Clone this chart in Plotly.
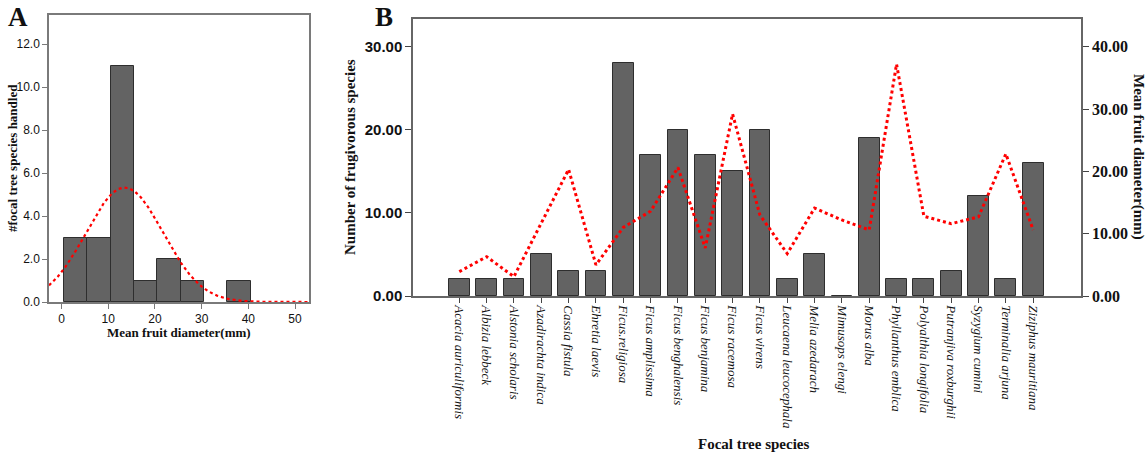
import numpy as np
import plotly.graph_objects as go

# ---------------- data ----------------
species = [
    "Acacia auriculiformis", "Albizia lebbeck", "Alstonia scholaris", "Azadirachta indica",
    "Cassia fistula", "Ehretia laevis", "Ficus.religiosa", "Ficus amplissima",
    "Ficus benghalensis", "Ficus benjamina", "Ficus racemosa", "Ficus virens",
    "Leucaena leucocephala", "Melia azedarach", "Mimusops elengi", "Morus alba",
    "Phyllanthus emblica", "Polyalthia longifolia", "Putranjiva roxburghii",
    "Syzygium cumini", "Terminalia arjuna", "Ziziphus mauritiana",
]
frugivore_counts = [2, 2, 2, 5, 3, 3, 28, 17, 20, 17, 15, 20, 2, 5, 0, 19, 2, 2, 3, 12, 2, 16]
fruit_diameter = [3.9, 6.3, 3.1, 11.7, 20.3, 5.0, 11.0, 13.6, 20.6, 7.7, 29.2, 13.0,
                  6.8, 14.1, 12.2, 10.6, 37.2, 12.8, 11.6, 12.7, 22.8, 10.6]

hist_start, hist_end, hist_size = 0.5, 40.5, 5
a_y_ticks = [0, 2, 4, 6, 8, 10, 12]
a_x_ticks = [0, 10, 20, 30, 40, 50]
b_left_ticks = [0, 10, 20, 30]
b_right_ticks = [0, 10, 20, 30, 40]

# normal curve fitted to the fruit diameters (as in the SPSS histogram)
fd = np.array(fruit_diameter)
mu, sd = fd.mean(), fd.std(ddof=1)
xs = np.linspace(-2.7, 53, 300)
curve = len(fd) * hist_size / (sd * np.sqrt(2 * np.pi)) * np.exp(-0.5 * ((xs - mu) / sd) ** 2)

W, H = 1148, 455
def px(x): return x / W
def py(y): return 1 - y / H

SERIF = "Liberation Serif, Times New Roman, serif"
SANS = "Liberation Sans, Arial, sans-serif"
BAR = "#636363"
EDGE = "#2e2e2e"
AX = "#7a7a7a"
TXT = "#111111"

fig = go.Figure()

# Panel A histogram
fig.add_trace(go.Histogram(
    x=fruit_diameter, xbins=dict(start=hist_start, end=hist_end, size=hist_size),
    marker=dict(color=BAR, line=dict(color=EDGE, width=1)),
    xaxis="x", yaxis="y", showlegend=False))
fig.add_trace(go.Scatter(
    x=xs, y=curve, mode="lines", line=dict(color="#ff0000", width=2.2, dash="dot"),
    xaxis="x", yaxis="y", showlegend=False))

# Panel B bars + line
fig.add_trace(go.Bar(
    x=species, y=frugivore_counts, width=0.76,
    marker=dict(color=BAR, line=dict(color=EDGE, width=1)),
    xaxis="x2", yaxis="y2", showlegend=False))
fig.add_trace(go.Scatter(
    x=species, y=fruit_diameter, mode="lines", line=dict(color="#ff0000", width=3, dash="dot"),
    xaxis="x2", yaxis="y3", showlegend=False))

def ann(text, x, y, size, angle=0, family=SERIF):
    return dict(text=text, x=px(x), y=py(y), xref="paper", yref="paper",
                xanchor="center", yanchor="middle", textangle=angle,
                showarrow=False, font=dict(family=family, size=size, color=TXT))

fig.update_layout(
    width=W, height=H, margin=dict(l=0, r=0, t=0, b=0, autoexpand=False),
    paper_bgcolor="white", plot_bgcolor="white", bargap=0,
    xaxis=dict(domain=[px(49), px(309)], anchor="y", range=[-2.7, 53], automargin=False,
               tickvals=a_x_ticks, ticks="outside", ticklen=5, tickcolor=AX,
               showline=True, linecolor=AX, linewidth=1.5, mirror=True,
               showgrid=False, zeroline=False,
               tickfont=dict(family=SANS, size=12, color=TXT)),
    yaxis=dict(domain=[py(302), py(15)], anchor="x", range=[0, 13.35], automargin=False,
               tickvals=a_y_ticks, ticktext=[f"{v:.1f}" for v in a_y_ticks],
               ticks="outside", ticklen=5, tickcolor=AX,
               showline=True, linecolor=AX, linewidth=1.5, mirror=True,
               showgrid=False, zeroline=False,
               tickfont=dict(family=SANS, size=12, color=TXT)),
    xaxis2=dict(domain=[px(413), px(1081)], anchor="y2", type="category", automargin=False,
                range=[-1.694, 22.75], tickangle=90, ticks="outside", ticklen=5, tickcolor="#444",
                showline=True, linecolor="#666", linewidth=1.5, mirror=True,
                showgrid=False, zeroline=False,
                tickfont=dict(family=SERIF, size=13, color=TXT, style="italic")),
    yaxis2=dict(domain=[py(296), py(19)], anchor="x2", range=[0, 33.33], automargin=False,
                tickvals=b_left_ticks, ticktext=[f"<b>{v:.2f}</b>" for v in b_left_ticks],
                ticks="outside", ticklen=6, tickcolor="#444",
                showline=True, linecolor="#666", linewidth=1.5,
                showgrid=False, zeroline=False,
                tickfont=dict(family=SANS, size=15, color=TXT)),
    yaxis3=dict(domain=[py(296), py(19)], anchor="x2", overlaying="y2", side="right",
                range=[0, 44.44], automargin=False,
                tickvals=b_right_ticks, ticktext=[f"<b>{v:.2f}</b>" for v in b_right_ticks],
                ticks="outside", ticklen=6, tickcolor="#444",
                showline=True, linecolor="#666", linewidth=1.5,
                showgrid=False, zeroline=False,
                tickfont=dict(family=SERIF, size=16, color=TXT)),
    annotations=[
        ann("<b>A</b>", 18, 17, 27),
        ann("<b>B</b>", 384, 17, 27),
        ann("<b>#focal tree species handled</b>", 12, 158, 13, -90),
        ann("<b>Mean fruit diameter(mm)</b>", 179, 332, 13),
        ann("<b>Number of frugivorous species</b>", 350, 157, 15, -90),
        ann("<b>Focal tree species</b>", 754, 444, 15),
        ann("<b>Mean fruit diameter(mm)</b>", 1139, 157, 15, 90),
    ],
)

fig.write_html("out.html", config={"displayModeBar": False},
               post_script="document.body.style.margin='0px';document.body.style.overflow='hidden';")
